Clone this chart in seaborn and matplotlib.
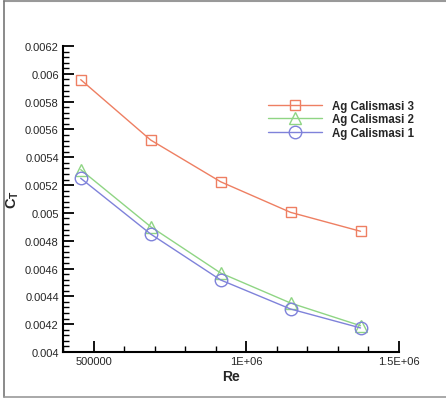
import numpy as np
import pandas as pd
import matplotlib
matplotlib.use("Agg")
import matplotlib.pyplot as plt
from matplotlib.ticker import MultipleLocator, FixedLocator, FixedFormatter
from matplotlib.lines import Line2D
import seaborn as sns

sns.set_style("white")
plt.rcParams['font.family'] = ['Liberation Sans', 'DejaVu Sans']
plt.rcParams['mathtext.fontset'] = 'custom'
plt.rcParams['mathtext.bf'] = 'Liberation Sans:bold'
plt.rcParams['mathtext.rm'] = 'Liberation Sans'

# Data
re_values = [458000, 687000, 916000, 1145000, 1374000]
ct_series3 = [0.005958, 0.005524, 0.005224, 0.005004, 0.004868]
ct_series2 = [0.005311, 0.004901, 0.004568, 0.004352, 0.004189]
ct_series1 = [0.005249, 0.004848, 0.004518, 0.004309, 0.004173]
labels = ['Ag Calismasi 3', 'Ag Calismasi 2', 'Ag Calismasi 1']
colors = ['#EE7F62', '#8FD584', '#7F82DA']
markers = ['s', '^', 'o']
msizes = [7.5, 8, 9]

fig = plt.figure(figsize=(4.46, 4.02), dpi=100)
ax = fig.add_axes([63/446, 1-353/402, (399-63)/446, (353-47)/402])

series = [ct_series3, ct_series2, ct_series1]
for vals, lab, col, mk, ms in zip(series, labels, colors, markers, msizes):
    df = pd.DataFrame({'Re': re_values, 'CT': vals})
    sns.lineplot(data=df, x='Re', y='CT', ax=ax, color=col, lw=1.0,
                 marker=mk, ms=ms, mfc='none', mec=col, mew=1.0, label=lab)

ax.set_xlim(400000, 1500000)
ax.set_ylim(0.004, 0.0062)
ax.xaxis.set_major_locator(FixedLocator([500000, 1000000, 1500000]))
ax.xaxis.set_major_formatter(FixedFormatter(['500000', '1E+06', '1.5E+06']))
ax.xaxis.set_minor_locator(MultipleLocator(100000))
ax.yaxis.set_major_locator(MultipleLocator(0.0002))
ax.yaxis.set_minor_locator(MultipleLocator(0.00004))
ax.set_yticklabels([('%.4f' % v).rstrip('0') for v in ax.get_yticks()])

ax.tick_params(axis='both', which='major', direction='in', length=8, width=1.3,
               labelsize=8, color='black', pad=3)
ax.tick_params(axis='both', which='minor', direction='in', length=4.5, width=1.0,
               color='black')
ax.tick_params(axis='x', which='both', bottom=True)
ax.tick_params(axis='y', which='both', left=True)

for side in ['top', 'right']:
    ax.spines[side].set_visible(False)
for side in ['left', 'bottom']:
    ax.spines[side].set_linewidth(1.5)
    ax.spines[side].set_color('black')

ax.set_xlabel('Re', fontsize=10, fontweight='bold', labelpad=2)
ax.set_ylabel(r'$\mathbf{C_T}$', fontsize=10.5)
ax.yaxis.set_label_coords((21 - 63) / 336, 0.5)

leg = ax.legend(loc='upper left', bbox_to_anchor=((268 - 63) / 336, (353 - 101) / 306),
                frameon=False, borderpad=0, borderaxespad=0,
                handlelength=4.7, handletextpad=0.85,
                labelspacing=0.12, numpoints=1, prop={'weight': 'bold', 'size': 8.3})

# outer frame of the image
fig.add_artist(Line2D([4/446, 1], [1-1.5/402, 1-1.5/402], color='#999999', lw=1.5))
fig.add_artist(Line2D([4/446, 4/446], [1-1.5/402, 1-398/402], color='#777777', lw=1.2))
fig.add_artist(Line2D([4/446, 1], [1-398/402, 1-398/402], color='#999999', lw=1.2))

fig.savefig('out.png', dpi=100)
